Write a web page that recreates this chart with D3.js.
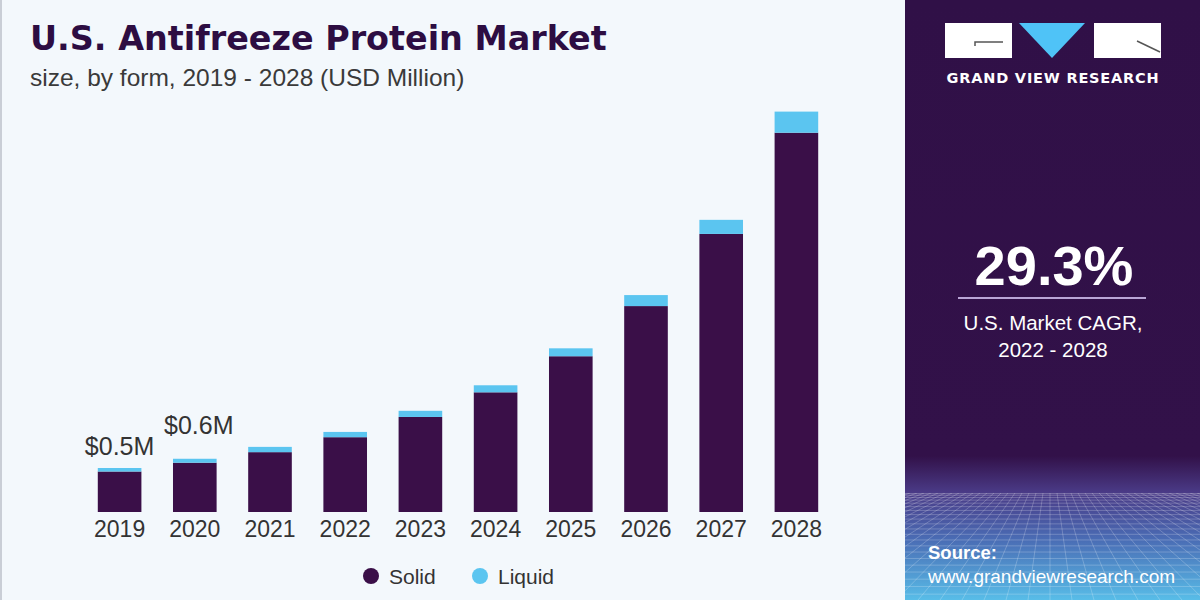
<!DOCTYPE html>
<html>
<head>
<meta charset="utf-8">
<script src="https://cdn.jsdelivr.net/npm/d3@7"></script>
<style>
  html, body { margin: 0; padding: 0; background: #f3f8fc; }
  svg { display: block; }
</style>
</head>
<body>
<div id="chart"></div>
<script>
// Chart data (USD Million)
const years = ["2019", "2020", "2021", "2022", "2023", "2024", "2025", "2026", "2027", "2028"];
const solid = [0.46, 0.56, 0.68, 0.85, 1.08, 1.36, 1.77, 2.34, 3.16, 4.31];
const liquid = [0.04, 0.045, 0.06, 0.06, 0.07, 0.08, 0.09, 0.125, 0.16, 0.24];
const valueLabels = ["$0.5M", "$0.6M"];
const seriesNames = ["Solid", "Liquid"];

const width = 1200;
const height = 600;
const panelX = 905;

const purple = "#3a0f48";
const blue = "#5bc5f0";
const textFont = "Liberation Sans, Arial, sans-serif";

const svg = d3.select("#chart").append("svg")
    .attr("width", width)
    .attr("height", height)
    .attr("viewBox", [0, 0, width, height]);

// Backgrounds
svg.append("rect").attr("width", panelX).attr("height", height).attr("fill", "#f3f8fc");
svg.append("rect").attr("x", 0).attr("width", 2).attr("height", height).attr("fill", "#c9ced6");

const defs = svg.append("defs");
const grad = defs.append("linearGradient")
    .attr("id", "panelGrad")
    .attr("x1", 0).attr("y1", 0).attr("x2", 0).attr("y2", 1);
grad.append("stop").attr("offset", "0%").attr("stop-color", "#301047");
grad.append("stop").attr("offset", "76%").attr("stop-color", "#321149");
grad.append("stop").attr("offset", "82%").attr("stop-color", "#4a3a86");
grad.append("stop").attr("offset", "90%").attr("stop-color", "#4a6db5");
grad.append("stop").attr("offset", "100%").attr("stop-color", "#58bde8");

svg.append("rect")
    .attr("x", panelX).attr("width", width - panelX).attr("height", height)
    .attr("fill", "url(#panelGrad)");

// Perspective mesh at the bottom of the panel
const horizon = 493;
defs.append("clipPath").attr("id", "meshClip")
  .append("rect").attr("x", panelX).attr("y", horizon).attr("width", width - panelX).attr("height", height - horizon);
const mesh = svg.append("g")
    .attr("clip-path", "url(#meshClip)")
    .attr("stroke", "#ffffff")
    .attr("stroke-opacity", 0.22)
    .attr("stroke-width", 1)
    .attr("fill", "none");
d3.range(0, 24).forEach(i => {
    const yy = horizon + Math.pow(i / 23, 1.6) * (height - horizon + 10);
    mesh.append("line").attr("x1", panelX).attr("x2", width).attr("y1", yy).attr("y2", yy);
});
d3.range(-30, 31).forEach(i => {
    const vx = 1050;
    mesh.append("line")
        .attr("x1", vx + i * 7).attr("y1", horizon)
        .attr("x2", vx + i * 22).attr("y2", height);
});

// Title
svg.append("text")
    .attr("x", 30).attr("y", 50)
    .attr("font-family", "DejaVu Sans, sans-serif")
    .attr("font-weight", "bold")
    .attr("font-size", 33.4)
    .attr("fill", "#2d0d42")
    .text("U.S. Antifreeze Protein Market");

svg.append("text")
    .attr("x", 30).attr("y", 86)
    .attr("font-family", textFont)
    .attr("font-size", 24.5)
    .attr("fill", "#3a3a3a")
    .text("size, by form, 2019 - 2028 (USD Million)");

// Scales
const x = d3.scaleBand()
    .domain(years)
    .range([82, 834])
    .paddingInner(0.42)
    .paddingOuter(0.21);

const y = d3.scaleLinear()
    .domain([0, 5])
    .range([512, 72]);

const rows = years.map((yr, i) => ({ year: yr, Solid: solid[i], Liquid: liquid[i] }));
const stacked = d3.stack().keys(seriesNames)(rows);
const color = d3.scaleOrdinal().domain(seriesNames).range([purple, blue]);

svg.append("g")
  .selectAll("g")
  .data(stacked)
  .join("g")
    .attr("fill", d => color(d.key))
  .selectAll("rect")
  .data(d => d)
  .join("rect")
    .attr("x", d => x(d.data.year))
    .attr("y", d => y(d[1]))
    .attr("width", x.bandwidth())
    .attr("height", d => y(d[0]) - y(d[1]));

// X axis (labels only)
svg.append("g")
    .attr("transform", `translate(0,${y(0)})`)
    .call(d3.axisBottom(x).tickSize(0).tickPadding(9))
    .call(g => g.select(".domain").remove())
    .call(g => g.selectAll("text")
        .attr("font-family", textFont)
        .attr("font-size", 23)
        .attr("fill", "#333333"));

// Value labels on first two bars
svg.append("g")
  .selectAll("text")
  .data(valueLabels)
  .join("text")
    .attr("x", (d, i) => x(years[i]) + x.bandwidth() / 2 + i * 4)
    .attr("y", (d, i) => y(solid[i] + liquid[i]) - (i === 0 ? 13 : 25))
    .attr("text-anchor", "middle")
    .attr("font-family", textFont)
    .attr("font-size", 25)
    .attr("fill", "#333333")
    .text(d => d);

// Legend
const legend = svg.append("g")
  .selectAll("g")
  .data(seriesNames)
  .join("g")
    .attr("transform", (d, i) => `translate(${371 + i * 109},576)`);
legend.append("circle").attr("r", 8).attr("fill", d => color(d));
legend.append("text")
    .attr("x", 18).attr("y", 7.5)
    .attr("font-family", textFont)
    .attr("font-size", 21)
    .attr("fill", "#333333")
    .text(d => d);

// Logo
const logo = svg.append("g");
logo.append("rect").attr("x", 945).attr("y", 23).attr("width", 67).attr("height", 35).attr("fill", "#ffffff");
logo.append("path").attr("d", "M975,46 L975,42 L1003,42").attr("stroke", "#555").attr("stroke-width", 1.5).attr("fill", "none");
logo.append("path").attr("d", "M1019,23 L1085,23 L1052,58 Z").attr("fill", "#4fc3f7");
logo.append("rect").attr("x", 1094).attr("y", 23).attr("width", 67).attr("height", 35).attr("fill", "#ffffff");
logo.append("path").attr("d", "M1137,41 L1160,52").attr("stroke", "#555").attr("stroke-width", 1.5);
logo.append("text")
    .attr("x", 1053).attr("y", 83)
    .attr("text-anchor", "middle")
    .attr("font-family", "DejaVu Sans, sans-serif")
    .attr("font-weight", "bold")
    .attr("font-size", 14.5)
    .attr("letter-spacing", 0.8)
    .attr("fill", "#ffffff")
    .text("GRAND VIEW RESEARCH");

// CAGR
svg.append("text")
    .attr("x", 1054).attr("y", 285)
    .attr("text-anchor", "middle")
    .attr("font-family", textFont)
    .attr("font-weight", "bold")
    .attr("font-size", 56)
    .attr("fill", "#ffffff")
    .text("29.3%");
svg.append("rect")
    .attr("x", 958).attr("y", 297).attr("width", 188).attr("height", 2)
    .attr("fill", "#b9a5d6");
svg.append("text")
    .attr("x", 1053).attr("y", 330)
    .attr("text-anchor", "middle")
    .attr("font-family", textFont)
    .attr("font-size", 20.5)
    .attr("fill", "#ffffff")
    .text("U.S. Market CAGR,");
svg.append("text")
    .attr("x", 1053).attr("y", 357)
    .attr("text-anchor", "middle")
    .attr("font-family", textFont)
    .attr("font-size", 20.5)
    .attr("fill", "#ffffff")
    .text("2022 - 2028");

// Source
svg.append("text")
    .attr("x", 928).attr("y", 559)
    .attr("font-family", textFont)
    .attr("font-weight", "bold")
    .attr("font-size", 18.5)
    .attr("fill", "#ffffff")
    .text("Source:");
svg.append("text")
    .attr("x", 928).attr("y", 583)
    .attr("font-family", textFont)
    .attr("font-size", 19)
    .attr("fill", "#ffffff")
    .text("www.grandviewresearch.com");
</script>
</body>
</html>
